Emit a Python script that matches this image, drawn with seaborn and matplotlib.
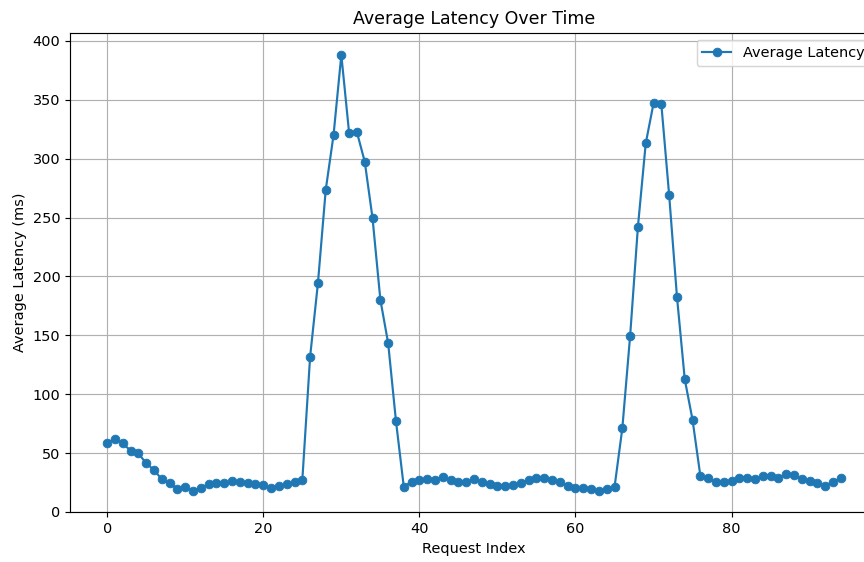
import matplotlib
matplotlib.use("Agg")
import matplotlib.pyplot as plt
import numpy as np
import pandas as pd
import seaborn as sns

# Latência média por índice de requisição
latencia = [
    58.3, 62.4, 58.3, 52.0, 49.8, 41.3, 35.7, 27.7, 24.3, 19.5,
    21.5, 17.8, 20.7, 23.5, 24.3, 24.3, 26.3, 25.5, 24.3, 23.5,
    22.9, 20.1, 22.0, 23.5, 25.2, 26.9, 131.9, 194.2, 273.5, 320.0,
    388.1, 321.6, 322.4, 297.5, 249.4, 180.3, 143.3, 77.2, 21.5, 25.7,
    27.2, 27.9, 27.2, 30.0, 27.2, 25.8, 25.2, 27.7, 25.8, 23.5,
    22.4, 22.4, 22.9, 25.0, 27.2, 29.1, 29.1, 27.2, 25.8, 22.1,
    20.7, 20.7, 19.5, 18.1, 19.5, 21.0, 71.0, 149.5, 242.3, 313.0,
    347.0, 346.2, 269.2, 182.9, 112.7, 78.1, 30.6, 28.6, 25.2, 25.2,
    26.3, 28.6, 29.2, 27.7, 30.6, 30.6, 28.6, 32.0, 31.4, 27.7,
    26.3, 24.3, 22.4, 25.8, 28.6,
]
indice = list(range(len(latencia)))

dados = pd.DataFrame({"Request Index": indice, "Average Latency": latencia})

# 865x562 px, texto um pouco maior que o padrão
dpi = 104
fig = plt.figure(figsize=(865 / dpi, 562 / dpi), dpi=dpi)
# eixo passa um pouco da borda direita, como na imagem original (cortada)
ax = fig.add_axes([0.0815, 0.089, 0.933, 0.852])

sns.lineplot(data=dados, x="Request Index", y="Average Latency", ax=ax,
             marker="o", markersize=6, markeredgewidth=0.6,
             markeredgecolor="#1f77b4", color="#1f77b4",
             linewidth=1.5, label="Average Latency")

ax.set_ylim(0, None)
ax.set_title("Average Latency Over Time")
ax.set_xlabel("Request Index")
ax.set_ylabel("Average Latency (ms)")
ax.grid(True)
ax.legend(loc="upper right")

fig.savefig("out.png", dpi=dpi)
